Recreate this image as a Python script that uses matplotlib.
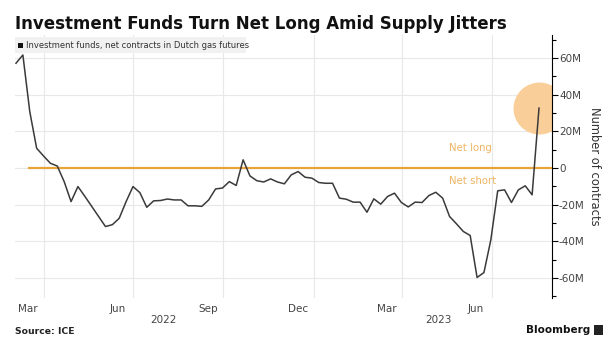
import datetime as dt

import matplotlib
matplotlib.use("Agg")
import matplotlib.pyplot as plt
import matplotlib.dates as mdates
from matplotlib.patches import Rectangle
from matplotlib.ticker import FixedLocator, MultipleLocator, FuncFormatter

# weekly positioning of investment funds, million contracts
start = dt.date(2022, 3, 4)
net_contracts = [
    57.1, 61.6, 30.7, 10.7, 6.5, 2.5, 1.0, -7.5, -18.4, -10.2,
    -15.5, -21.0, -26.5, -32.0, -31.0, -27.5, -18.4, -10.2, -13.5, -21.5,
    -18.0, -17.8, -17.0, -17.5, -17.5, -20.7, -20.7, -21.0, -17.5, -11.5,
    -11.0, -7.5, -9.6, 4.4, -4.4, -7.0, -7.7, -6.0, -7.7, -8.7,
    -3.8, -2.0, -5.1, -5.6, -8.0, -8.4, -8.4, -16.5, -17.1, -18.7,
    -18.7, -24.2, -16.9, -19.8, -15.6, -13.8, -18.9, -21.3, -18.7, -18.9,
    -15.1, -13.3, -16.5, -26.5, -30.5, -34.7, -36.9, -59.8, -57.1, -39.3,
    -12.5, -12.0, -18.9, -12.0, -9.8, -14.7, 32.6,
]
dates = [start + dt.timedelta(weeks=i) for i in range(len(net_contracts))]

month_labels = ["Mar", "Jun", "Sep", "Dec", "Mar", "Jun"]
month_label_dates = [dt.date(2022, 3, 16), dt.date(2022, 6, 15), dt.date(2022, 9, 15),
                     dt.date(2022, 12, 16), dt.date(2023, 3, 16), dt.date(2023, 6, 15)]
grid_dates = [dt.date(2022, 4, 1), dt.date(2022, 7, 1), dt.date(2022, 10, 1),
              dt.date(2023, 1, 1), dt.date(2023, 4, 1), dt.date(2023, 7, 1)]
years = ["2022", "2023"]
year_dates = [dt.date(2022, 8, 1), dt.date(2023, 5, 8)]

plt.rcParams["font.family"] = ["DejaVu Sans"]

LINE = "#3a3a3a"
ORANGE = "#E8A33A"
LIGHT_ORANGE = "#EDB563"
GRID = "#E8E8E8"
TICK_TEXT = "#444444"

fig = plt.figure(figsize=(6.11, 3.51), dpi=100)
ax = fig.add_axes([15 / 611, 1 - 298 / 351, (552 - 15) / 611, (298 - 35) / 351])

ax.plot(dates, net_contracts, color=LINE, lw=1.1, zorder=4)
ax.axhline(0, xmin=14 / 537, xmax=1, color=ORANGE, lw=1.6, zorder=3)
ax.scatter([dates[-1]], [net_contracts[-1]], s=1400, color="#F9CE98", lw=0,
           zorder=2, clip_on=True)

ax.text(dt.date(2023, 5, 18), 11, "Net long", color=LIGHT_ORANGE, fontsize=7.3,
        ha="left", va="center")
ax.text(dt.date(2023, 5, 18), -7, "Net short", color=LIGHT_ORANGE, fontsize=7.3,
        ha="left", va="center")

# x axis: gridlines at quarter starts, labels mid-month
px_day = (539 - 16) / (dates[-1] - dates[0]).days
x0 = mdates.date2num(dates[0]) - 1 / px_day
x1 = mdates.date2num(dates[-1]) + 13 / px_day
ax.set_xlim(x0, x1)
ax.set_ylim(-71, 72.5)

ax.xaxis.set_major_locator(FixedLocator(mdates.date2num(grid_dates)))
ax.xaxis.set_minor_locator(FixedLocator(mdates.date2num(month_label_dates)))
ax.xaxis.set_major_formatter(FuncFormatter(lambda v, p: ""))
ax.xaxis.set_minor_formatter(FuncFormatter(
    lambda v, p: month_labels[p] if p is not None and p < len(month_labels) else ""))
ax.tick_params(axis="x", which="both", length=0, labelsize=7.5,
               labelcolor=TICK_TEXT, pad=4)
ax.grid(axis="x", which="major", color=GRID, lw=0.8)

for y, d in zip(years, year_dates):
    ax.text(d, -0.085, y, transform=ax.get_xaxis_transform(), ha="center",
            va="center", fontsize=7.5, color=TICK_TEXT)

# y axis on the right
ax.yaxis.tick_right()
ax.yaxis.set_label_position("right")
ax.yaxis.set_major_locator(MultipleLocator(20))
ax.yaxis.set_minor_locator(FixedLocator([-70, -50, -30, -10, 10, 30, 50, 70]))
ax.yaxis.set_major_formatter(FuncFormatter(
    lambda v, p: "0" if v == 0 else "%dM" % v))
ax.tick_params(axis="y", which="major", length=4, width=0.8, labelsize=7.5,
               labelcolor=TICK_TEXT, pad=1)
ax.tick_params(axis="y", which="minor", length=3, width=0.8)
ax.grid(axis="y", which="major", color=GRID, lw=0.8)
ax.set_ylabel("Number of contracts", rotation=270, labelpad=12, fontsize=8.3,
              color="#333333")

for side in ["top", "left", "bottom"]:
    ax.spines[side].set_visible(False)
ax.spines["right"].set_linewidth(0.8)
ax.set_axisbelow(True)

# header
fig.text(15 / 611, 1 - 24 / 351, "Investment Funds Turn Net Long Amid Supply Jitters",
         fontsize=12, fontweight="bold", color="#111111", va="center", ha="left")
fig.patches.append(Rectangle((15 / 611, 1 - 53 / 351), 231 / 611, 16 / 351,
                             transform=fig.transFigure, color="#F1F1F1", lw=0))
fig.patches.append(Rectangle((18 / 611, 1 - 48 / 351), 5 / 611, 5 / 351,
                             transform=fig.transFigure, color="#111111", lw=0))
fig.text(26 / 611, 1 - 45 / 351, "Investment funds, net contracts in Dutch gas futures",
         fontsize=6, color="#333333", va="center", ha="left")

# footer
fig.text(15 / 611, 1 - 332 / 351, "Source: ICE", fontsize=6.7, fontweight="bold",
         color="#222222", va="center", ha="left")
fig.text(590 / 611, 1 - 330 / 351, "Bloomberg", fontsize=7.5, fontweight="bold",
         color="#111111", va="center", ha="right")
fig.patches.append(Rectangle((594 / 611, 1 - 335 / 351), 9 / 611, 10 / 351,
                             transform=fig.transFigure, color="#222222", lw=0))

fig.savefig("out.png", dpi=100)
